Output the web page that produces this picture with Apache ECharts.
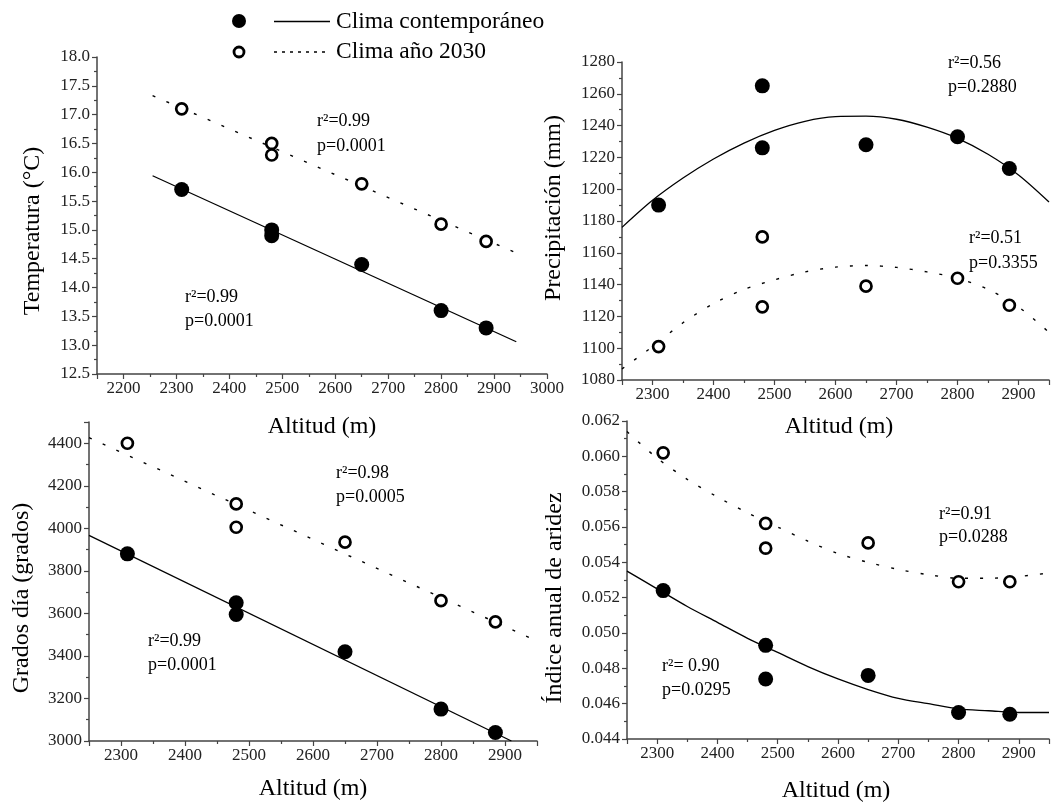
<!DOCTYPE html>
<html>
<head>
<meta charset="utf-8">
<script src="https://cdn.jsdelivr.net/npm/echarts@6/dist/echarts.min.js"></script>
<style>html,body{margin:0;padding:0;background:#fff;}#c{width:1052px;height:808px;}</style>
</head>
<body>
<div id="c"></div>
<script>
// ---- Data ----
const altitudes = [2310, 2480, 2480, 2650, 2800, 2885];
const tempContemp = [15.7, 15.0, 14.9, 14.4, 13.6, 13.3];
const temp2030 = [17.1, 16.5, 16.3, 15.8, 15.1, 14.8];
const precipContemp = [1190, 1265, 1226, 1228, 1233, 1213];
const precip2030 = [1101, 1170, 1126, 1139, 1144, 1127];
const gdContemp = [3880, 3650, 3595, 3420, 3150, 3040];
const gd2030 = [4400, 4115, 4005, 3935, 3660, 3560];
const iaContemp = [0.0524, 0.0493, 0.0474, 0.0476, 0.0455, 0.0454];
const ia2030 = [0.0602, 0.0562, 0.0548, 0.0551, 0.0529, 0.0529];

// fitted lines
const tempFitAlt = [2255, 2942];
const tempFitContemp = [15.94, 13.06];
const tempFit2030 = [17.33, 14.60];
const gdFitAltContemp = [2250, 2910];
const gdFitContemp = [3967, 3000];
const gdFitAlt2030 = [2250, 2950];
const gdFit2030 = [4426, 3470];
const curveAlt = [2250, 2300, 2350, 2400, 2450, 2500, 2550, 2600, 2650, 2700, 2750, 2800, 2850, 2900, 2950];
const precipFitContemp = [1176, 1193, 1207, 1219, 1229, 1237, 1242.7, 1245.6, 1245.9, 1244, 1239, 1232, 1222, 1209, 1192];
const precipFit2030 = [1087, 1101, 1116, 1128, 1137, 1143, 1148, 1151, 1152, 1150.8, 1148, 1144, 1137, 1126, 1110];
const iaFitContemp = [0.0535, 0.0525, 0.0515, 0.0506, 0.0497, 0.0489, 0.0481, 0.0474, 0.0468, 0.0463, 0.0460, 0.0457, 0.0456, 0.0455, 0.0455];
const iaFit2030 = [0.0614, 0.0599, 0.0587, 0.0577, 0.0568, 0.0560, 0.0552, 0.0545, 0.0540, 0.0536, 0.0533, 0.0531, 0.0531, 0.0532, 0.0534];

const legendLabels = ['Clima contemporáneo', 'Clima año 2030'];
const yTitles = ['Temperatura (°C)', 'Precipitación (mm)', 'Grados día (grados)', 'Índice anual de aridez'];
const xTitle = 'Altitud (m)';
const stats = [
  ['r²=0.99', 'p=0.0001', 'r²=0.99', 'p=0.0001'],
  ['r²=0.56', 'p=0.2880', 'r²=0.51', 'p=0.3355'],
  ['r²=0.98', 'p=0.0005', 'r²=0.99', 'p=0.0001'],
  ['r²=0.91', 'p=0.0288', 'r²= 0.90', 'p=0.0295']
];

// ---- Build ----
const FONT = '"Liberation Serif", "Times New Roman", serif';
const AX = '#444';
const zip = (xs, ys) => xs.map((x, i) => [x, ys[i]]);

function xAxis(gi, min, max, split) {
  return {
    type: 'value', gridIndex: gi, min: min, max: max, splitNumber: split,
    axisLine: { show: true, lineStyle: { color: AX, width: 1.5 } },
    axisTick: { show: true, length: 5, lineStyle: { color: AX, width: 1.2 } },
    minorTick: { show: true, splitNumber: 2, length: 3, lineStyle: { color: AX, width: 1.2 } },
    splitLine: { show: false },
    axisLabel: { fontFamily: FONT, fontSize: 17, color: '#222', margin: 6,
      formatter: v => (Math.round(v) % 100 === 0 ? String(Math.round(v)) : '') }
  };
}
function yAxis(gi, min, max, interval, fmt) {
  return {
    type: 'value', gridIndex: gi, min: min, max: max, interval: interval,
    axisLine: { show: true, lineStyle: { color: AX, width: 1.5 } },
    axisTick: { show: true, length: 5, lineStyle: { color: AX, width: 1.2 } },
    minorTick: { show: true, splitNumber: 2, length: 3, lineStyle: { color: AX, width: 1.2 } },
    splitLine: { show: false },
    axisLabel: { fontFamily: FONT, fontSize: 17, color: '#222', margin: 7, formatter: fmt }
  };
}
function filled(gi, data) {
  return { type: 'scatter', xAxisIndex: gi, yAxisIndex: gi, data: data, symbol: 'circle', symbolSize: 15,
    itemStyle: { color: '#000', opacity: 1 }, z: 5 };
}
function open(gi, data) {
  return { type: 'scatter', xAxisIndex: gi, yAxisIndex: gi, data: data, symbol: 'circle', symbolSize: 11,
    itemStyle: { color: '#fff', borderColor: '#000', borderWidth: 2.7, opacity: 1 }, z: 6 };
}
function fit(gi, data, dotted, smooth) {
  return { type: 'line', xAxisIndex: gi, yAxisIndex: gi, data: data, showSymbol: false, symbol: 'none',
    smooth: smooth ? 0.3 : false, clip: true,
    lineStyle: { color: '#000', width: dotted ? 1.4 : 1.3, type: dotted ? [3, 12] : 'solid' }, z: 3 };
}

const grids = [
  { left: 97, top: 57, width: 450, height: 317 },
  { left: 622, top: 62, width: 434, height: 318 },
  { left: 89, top: 422, width: 448, height: 319 },
  { left: 627, top: 421, width: 434, height: 318 }
];

const fmt1 = v => v.toFixed(1);
const fmt0 = v => String(Math.round(v));
const fmtGD = v => (Math.round(v) % 200 === 0 ? String(Math.round(v)) : '');
const fmt3 = v => v.toFixed(3);

function txt(x, y, s, size, opts) {
  opts = opts || {};
  return { type: 'text', x: x, y: y, rotation: opts.rot || 0, z: 20,
    style: { text: s, fontFamily: FONT, fontSize: size, fill: '#000',
      align: opts.align || 'left', verticalAlign: 'middle' } };
}

const statPos = [
  [[317, 121], [317, 146], [185, 297], [185, 321]],
  [[948, 63], [948, 87], [969, 238], [969, 263]],
  [[336, 473], [336, 497], [148, 641], [148, 665]],
  [[939, 514], [939, 537], [662, 666], [662, 690]]
];
const graphics = [];
stats.forEach((arr, p) => arr.forEach((s, k) => graphics.push(txt(statPos[p][k][0], statPos[p][k][1], s, 18))));
// axis titles
graphics.push(txt(33, 231, yTitles[0], 24, { rot: Math.PI / 2, align: 'center' }));
graphics.push(txt(554, 208, yTitles[1], 24, { rot: Math.PI / 2, align: 'center' }));
graphics.push(txt(22, 598, yTitles[2], 24, { rot: Math.PI / 2, align: 'center' }));
graphics.push(txt(555, 598, yTitles[3], 24, { rot: Math.PI / 2, align: 'center' }));
graphics.push(txt(322, 427, xTitle, 24, { align: 'center' }));
graphics.push(txt(839, 427, xTitle, 24, { align: 'center' }));
graphics.push(txt(313, 789, xTitle, 24, { align: 'center' }));
graphics.push(txt(836, 791, xTitle, 24, { align: 'center' }));
// legend
graphics.push({ type: 'circle', shape: { cx: 239, cy: 21, r: 7 }, style: { fill: '#000' }, z: 20 });
graphics.push({ type: 'line', shape: { x1: 274, y1: 21.5, x2: 330, y2: 21.5 }, style: { stroke: '#000', lineWidth: 1.3 }, z: 20 });
graphics.push(txt(336, 22, legendLabels[0], 23.5));
graphics.push({ type: 'circle', shape: { cx: 239, cy: 52, r: 5 }, style: { fill: '#fff', stroke: '#000', lineWidth: 2.8 }, z: 20 });
graphics.push({ type: 'line', shape: { x1: 274, y1: 52, x2: 330, y2: 52 }, style: { stroke: '#000', lineWidth: 1.4, lineDash: [3, 5] }, z: 20 });
graphics.push(txt(336, 52, legendLabels[1], 23.5));

const option = {
  animation: false,
  backgroundColor: '#fff',
  grid: grids,
  xAxis: [xAxis(0, 2150, 3000, 8), xAxis(1, 2250, 2950, 7), xAxis(2, 2250, 2950, 7), xAxis(3, 2250, 2950, 7)],
  yAxis: [yAxis(0, 12.5, 18, 0.5, fmt1), yAxis(1, 1080, 1280, 20, fmt0), yAxis(2, 3000, 4500, 200, fmtGD), yAxis(3, 0.044, 0.062, 0.002, fmt3)],
  series: [
    fit(0, zip(tempFitAlt, tempFitContemp), false), fit(0, zip(tempFitAlt, tempFit2030), true),
    filled(0, zip(altitudes, tempContemp)), open(0, zip(altitudes, temp2030)),
    fit(1, zip(curveAlt, precipFitContemp), false, true), fit(1, zip(curveAlt, precipFit2030), true, true),
    filled(1, zip(altitudes, precipContemp)), open(1, zip(altitudes, precip2030)),
    fit(2, zip(gdFitAltContemp, gdFitContemp), false), fit(2, zip(gdFitAlt2030, gdFit2030), true),
    filled(2, zip(altitudes, gdContemp)), open(2, zip(altitudes, gd2030)),
    fit(3, zip(curveAlt, iaFitContemp), false, true), fit(3, zip(curveAlt, iaFit2030), true, true),
    filled(3, zip(altitudes, iaContemp)), open(3, zip(altitudes, ia2030))
  ],
  graphic: graphics
};
const chart = echarts.init(document.getElementById('c'), null, { renderer: 'canvas' });
chart.setOption(option);
</script>
</body>
</html>
